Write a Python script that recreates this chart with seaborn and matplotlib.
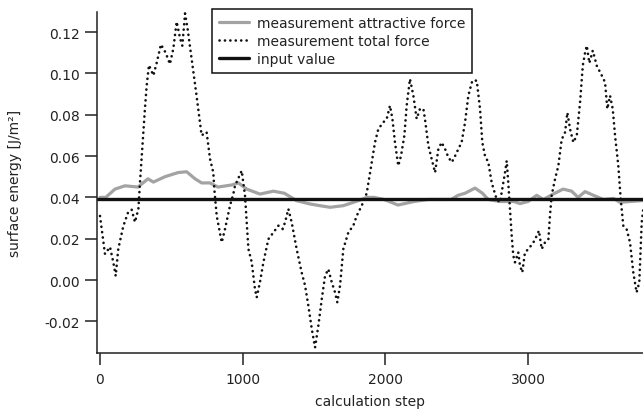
import matplotlib
matplotlib.use("Agg")
import matplotlib.pyplot as plt
import seaborn as sns
import pandas as pd
import numpy as np

# total force measurement (calculation step, surface energy in J/m²)
total_steps = [0, 35, 70, 93, 110, 128, 163, 198, 222, 245, 269, 280, 315, 327, 343, 374, 397, 427, 460, 490,
               514, 537, 561, 577, 596, 614, 642, 677, 712, 747, 771, 794, 801, 818, 853, 876, 911, 934, 946, 993,
               1016, 1040, 1063, 1086, 1098, 1121, 1145, 1180, 1215, 1250, 1280, 1297, 1320, 1343, 1378, 1413,
               1437, 1460, 1484, 1507, 1530, 1554, 1577, 1600, 1624, 1647, 1663, 1682, 1705, 1740, 1775, 1799,
               1834, 1869, 1904, 1927, 1950, 1985, 2009, 2032, 2049, 2067, 2090, 2109, 2133, 2149, 2172, 2196,
               2219, 2242, 2266, 2277, 2301, 2324, 2348, 2371, 2394, 2418, 2441, 2465, 2488, 2511, 2534, 2558,
               2581, 2609, 2640, 2663, 2679, 2698, 2721, 2745, 2780, 2803, 2838, 2850, 2861, 2873, 2885, 2896,
               2908, 2931, 2943, 2959, 2978, 3002, 3037, 3060, 3076, 3095, 3118, 3142, 3153, 3165, 3189, 3212,
               3235, 3259, 3275, 3294, 3317, 3341, 3364, 3383, 3399, 3411, 3429, 3453, 3481, 3516, 3539, 3555,
               3574, 3593, 3609, 3632, 3649, 3667, 3690, 3714, 3737, 3760, 3779, 3796, 3810]
total_force = [0.031, 0.0126, 0.016, 0.0087, 0.002, 0.015, 0.026, 0.033, 0.034, 0.028, 0.0344, 0.047, 0.083,
               0.094, 0.104, 0.099, 0.105, 0.114, 0.110, 0.1045, 0.112, 0.125, 0.117, 0.1134, 0.129, 0.1215,
               0.107, 0.089, 0.070, 0.0716, 0.0586, 0.052, 0.044, 0.031, 0.0182, 0.0247, 0.036, 0.0416, 0.0456,
               0.0529, 0.041, 0.015, 0.0087, -0.0044, -0.0084, -0.001, 0.0086, 0.0198, 0.023, 0.0263, 0.0247,
               0.028, 0.0344, 0.028, 0.015, 0.0037, -0.0027, -0.0124, -0.0237, -0.0326, -0.0221, -0.0092, 0.002,
               0.0053, -0.0011, -0.006, -0.0108, -0.0027, 0.015, 0.023, 0.0263, 0.0311, 0.036, 0.042, 0.057,
               0.0666, 0.073, 0.0763, 0.078, 0.0844, 0.078, 0.0666, 0.0553, 0.060, 0.070, 0.0844, 0.0973, 0.0892,
               0.078, 0.0828, 0.0828, 0.078, 0.065, 0.0586, 0.052, 0.0634, 0.0666, 0.0634, 0.0594, 0.057, 0.060,
               0.0634, 0.0666, 0.0763, 0.0892, 0.0965, 0.0965, 0.0828, 0.0666, 0.060, 0.057, 0.047, 0.039,
               0.0376, 0.052, 0.0577, 0.047, 0.034, 0.0214, 0.0118, 0.0086, 0.0134, 0.007, 0.0037, 0.0134,
               0.015, 0.0182, 0.0214, 0.0239, 0.015, 0.0182, 0.0198, 0.0311, 0.041, 0.049, 0.0553, 0.068,
               0.0715, 0.081, 0.073, 0.0666, 0.070, 0.086, 0.1037, 0.110, 0.1134, 0.105, 0.111, 0.1037, 0.099,
               0.0957, 0.0828, 0.0892, 0.0828, 0.070, 0.0553, 0.039, 0.0263, 0.0247, 0.0182, 0.0037, -0.006,
               -0.0011, 0.028, 0.036]

# attractive force measurement
attr_steps = [0, 40, 105, 175, 266, 336, 374, 455, 547, 607, 666, 712, 771, 827, 923, 970, 1028, 1121, 1215,
              1292, 1378, 1472, 1540, 1612, 1705, 1810, 1870, 1920, 1990, 2088, 2200, 2300, 2460, 2509, 2558,
              2628, 2680, 2720, 2800, 2900, 2943, 3000, 3060, 3107, 3176, 3245, 3305, 3350, 3399, 3458, 3528,
              3598, 3644, 3714, 3810]
attr_force = [0.040, 0.040, 0.044, 0.0456, 0.045, 0.049, 0.0474, 0.050, 0.052, 0.0524, 0.049, 0.047, 0.047,
              0.045, 0.046, 0.047, 0.044, 0.0416, 0.043, 0.042, 0.0384, 0.0368, 0.036, 0.0352, 0.036, 0.0384,
              0.040, 0.040, 0.039, 0.0363, 0.038, 0.039, 0.039, 0.041, 0.042, 0.0445, 0.042, 0.039, 0.038,
              0.038, 0.037, 0.038, 0.041, 0.039, 0.0416, 0.044, 0.043, 0.040, 0.0428, 0.041, 0.039, 0.0395,
              0.0376, 0.038, 0.0385]

input_value = 0.039
x_ticks = [0, 1000, 2000, 3000]
y_ticks = [-0.02, 0.00, 0.02, 0.04, 0.06, 0.08, 0.10, 0.12]

sns.set_style("ticks")
plt.rcParams["font.family"] = ["DejaVu Sans"]
text_color = "#222222"
fs = 10
dot_pattern = (0.05, 2.0)

fig = plt.figure(figsize=(6.43, 4.14), dpi=100)
ax = fig.add_axes([97 / 643, 60 / 414, 546 / 643, 341 / 414])

total_df = pd.DataFrame({"step": total_steps, "energy": total_force})
attr_df = pd.DataFrame({"step": attr_steps, "energy": attr_force})

sns.lineplot(data=attr_df, x="step", y="energy", ax=ax, color="#a3a3a3", linewidth=2.3,
             label="measurement attractive force")
sns.lineplot(data=total_df, x="step", y="energy", ax=ax, color="#111111", linewidth=1.9,
             dashes=False, label="measurement total force")
ax.lines[-1].set_dashes(dot_pattern)
ax.lines[-1].set_dash_capstyle("round")
sns.lineplot(x=[-100, 4000], y=[input_value, input_value], ax=ax, color="#111111",
             linewidth=2.4, label="input value")

ax.set_xlim(-21, 3805)
ax.set_ylim(-0.0353, 0.1297)
ax.set_xticks(x_ticks)
ax.set_yticks(y_ticks)
ax.set_yticklabels([f"{v:.2f}" for v in y_ticks])
ax.tick_params(axis="both", length=8.5, width=1.1, color=text_color, labelsize=fs,
               labelcolor=text_color, pad=4)
ax.tick_params(axis="x", pad=5)

for side in ("top", "right"):
    ax.spines[side].set_visible(False)
for side in ("left", "bottom"):
    ax.spines[side].set_linewidth(1.1)
    ax.spines[side].set_color(text_color)

ax.set_xlabel("calculation step", fontsize=fs, color=text_color, labelpad=6)
ax.set_ylabel("surface energy [J/m²]", fontsize=fs, color=text_color)
ax.yaxis.set_label_coords(-0.137, 0.5)

leg = ax.legend(loc="upper left", bbox_to_anchor=(212 / 643, 1 - 10 / 414),
                bbox_transform=fig.transFigure, borderaxespad=0, frameon=True,
                fancybox=False, fontsize=fs, handlelength=2.2, labelspacing=0.31,
                borderpad=0.47, handletextpad=0.55)
leg.get_frame().set_edgecolor("#111111")
leg.get_frame().set_linewidth(1.1)
leg.get_frame().set_alpha(1)
for t in leg.get_texts():
    t.set_color(text_color)
leg.get_lines()[1].set_dashes(dot_pattern)
leg.get_lines()[1].set_dash_capstyle("round")

fig.savefig("out.png", dpi=100)
